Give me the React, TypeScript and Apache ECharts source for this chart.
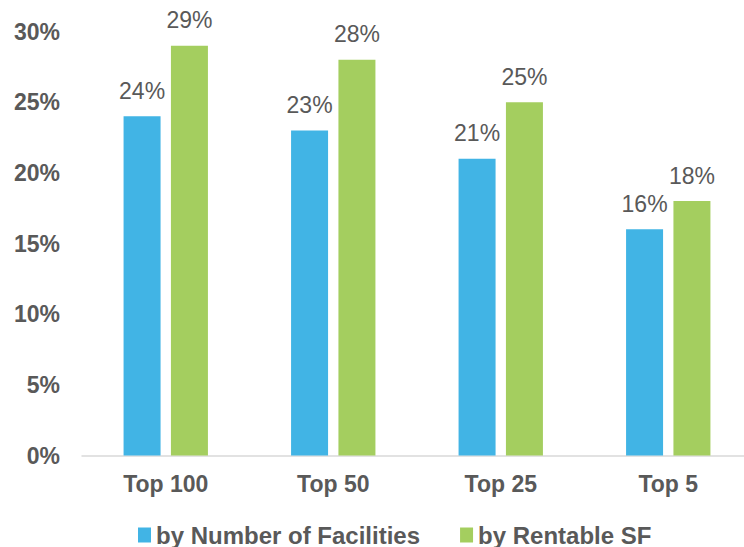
import React, { useEffect, useRef } from "react";
import * as echarts from "echarts";

const categories = ["Top 100", "Top 50", "Top 25", "Top 5"];
const facilitiesValues = [24, 23, 21, 16];
const rentableValues = [29, 28, 25, 18];
const seriesNames = ["by Number of Facilities", "by Rentable SF"];
const yTicks = [0, 5, 10, 15, 20, 25, 30];

const FONT = "'Liberation Sans', Arial, sans-serif";
const GRAY = "#595959";

export default function App() {
  const ref = useRef<HTMLDivElement>(null);
  useEffect(() => {
    document.body.style.margin = "0";
    const chart = echarts.init(ref.current!, null, { renderer: "svg" });
    chart.setOption({
      animation: false,
      textStyle: { fontFamily: FONT },
      grid: { left: 82, right: 8, top: 31.5, bottom: 91.5, containLabel: false },
      legend: {
        left: 138,
        top: 523,
        padding: 0,
        itemWidth: 13,
        itemHeight: 15,
        itemGap: 40,
        icon: "rect",
        textStyle: { fontFamily: FONT, fontSize: 24, fontWeight: "bold", color: GRAY },
        data: seriesNames,
      },
      xAxis: {
        type: "category",
        data: categories,
        axisLine: { lineStyle: { color: "#d9d9d9", width: 1.5 } },
        axisTick: { show: false },
        axisLabel: { fontFamily: FONT, fontSize: 23, fontWeight: "bold", color: GRAY, margin: 17 },
      },
      yAxis: {
        type: "value",
        min: yTicks[0],
        max: yTicks[yTicks.length - 1],
        interval: 5,
        splitLine: { show: false },
        axisLine: { show: false },
        axisTick: { show: false },
        axisLabel: {
          fontFamily: FONT,
          fontSize: 23,
          fontWeight: "bold",
          color: GRAY,
          margin: 22,
          formatter: (v: number) => `${v}%`,
        },
      },
      series: [
        {
          name: seriesNames[0],
          type: "bar",
          data: facilitiesValues,
          barWidth: 37,
          barGap: "28%",
          itemStyle: { color: "#41B4E5" },
          label: {
            show: true,
            position: "top",
            distance: 14,
            fontFamily: FONT,
            fontSize: 23,
            color: GRAY,
            formatter: (p: any) => `${p.value}%`,
          },
        },
        {
          name: seriesNames[1],
          type: "bar",
          data: rentableValues,
          barWidth: 37,
          barGap: "28%",
          itemStyle: { color: "#A4CE5F" },
          label: {
            show: true,
            position: "top",
            distance: 14,
            fontFamily: FONT,
            fontSize: 23,
            color: GRAY,
            formatter: (p: any) => `${p.value}%`,
          },
        },
      ],
    });
    return () => chart.dispose();
  }, []);
  return (
    <div style={{ width: 744, height: 547, overflow: "hidden" }}>
      <div ref={ref} style={{ width: 760, height: 547 }} />
    </div>
  );
}
